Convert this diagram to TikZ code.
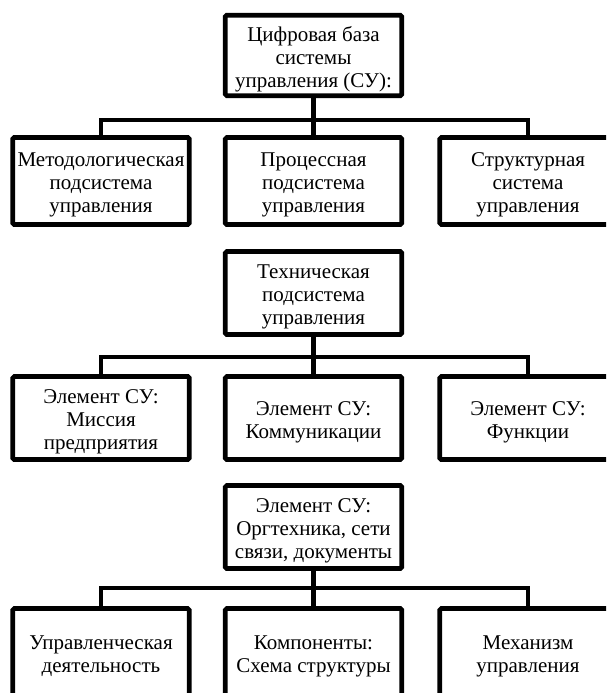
\documentclass[tikz,border=0pt]{standalone}
\usepackage{fontspec}
\setmainfont{Liberation Serif}
\newcommand\topstrut{\rule{0pt}{22pt}}
\begin{document}
\begin{tikzpicture}[x=1pt,y=-1pt,
  box/.style={draw=black,line width=4.6pt,rounded corners=1.5pt,
    minimum width=176.5pt,minimum height=83pt,inner sep=0pt,align=center,
    font=\fontsize{21}{23}\selectfont},
  conn/.style={draw=black,line width=4.6pt,line join=miter}]
\useasboundingbox (0,0) rectangle (606,693);
\clip (0,0) rectangle (606,693);
% section 1
\node[box,minimum height=80.5pt] (t1) at (313.5,55.5) {\topstrut Цифровая база\\системы\\управления (СУ):};
\node[box,minimum height=87pt] (a1) at (101,181) {\topstrut Методологическая\\подсистема\\управления};
\node[box,minimum height=87pt] (a2) at (313.5,181) {\topstrut Процессная\\подсистема\\управления};
\node[box,minimum height=87pt] (a3) at (528,181) {\topstrut Структурная\\система\\управления};
\coordinate (j1) at (313.5,120);
\draw[conn] (t1.south) -- (a2.north);
\draw[conn] (a1.north) |- (j1) -| (a3.north);
% section 2
\node[box] (t2) at (313.5,293) {\topstrut Техническая\\подсистема\\управления};
\node[box] (b1) at (101,418) {\topstrut Элемент СУ:\\Миссия\\предприятия};
\node[box] (b2) at (313.5,418) {\topstrut Элемент СУ:\\Коммуникации};
\node[box] (b3) at (528,418) {\topstrut Элемент СУ:\\Функции};
\coordinate (j2) at (313.5,357);
\draw[conn] (t2.south) -- (b2.north);
\draw[conn] (b1.north) |- (j2) -| (b3.north);
% section 3
\node[box] (t3) at (313.5,527) {\topstrut Элемент СУ:\\Оргтехника, сети\\связи, документы};
\node[box,minimum height=87pt] (c1) at (101,652) {\topstrut Управленческая\\деятельность};
\node[box,minimum height=87pt] (c2) at (313.5,652) {\topstrut Компоненты:\\Схема структуры};
\node[box,minimum height=87pt] (c3) at (528,652) {\topstrut Механизм\\управления};
\coordinate (j3) at (313.5,588);
\draw[conn] (t3.south) -- (c2.north);
\draw[conn] (c1.north) |- (j3) -| (c3.north);
\end{tikzpicture}
\end{document}
